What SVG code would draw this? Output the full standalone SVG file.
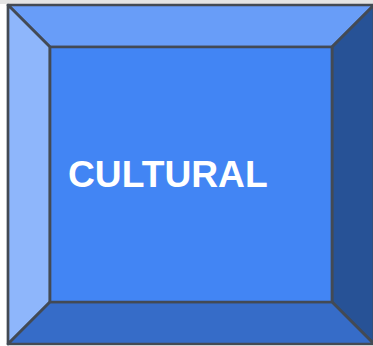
<svg xmlns="http://www.w3.org/2000/svg" width="373" height="346" viewBox="0 0 373 346">
<style>
.e{stroke:#434a54;stroke-width:2.7;stroke-linejoin:round}
text{font-family:"Liberation Sans",Arial,sans-serif;font-weight:700;font-size:37.2px;fill:#fff}
</style>
<rect width="373" height="346" fill="#fff"/>
<rect width="373" height="4" fill="#e4e4e4"/>
<g id="bevel">
<polygon class="e" fill="#689df8" points="8,5 374,5 332,47 50,47"/>
<polygon class="e" fill="#8eb6fb" points="8,5 50,47 50,302 8,344"/>
<polygon class="e" fill="#275296" points="374,5 332,47 332,302 374,344"/>
<polygon class="e" fill="#366cc8" points="8,344 50,302 332,302 374,344"/>
<rect class="e" fill="#4285f4" x="50" y="47" width="282" height="255"/>
<text x="68" y="186.8">CULTURAL</text>
</g>
</svg>
